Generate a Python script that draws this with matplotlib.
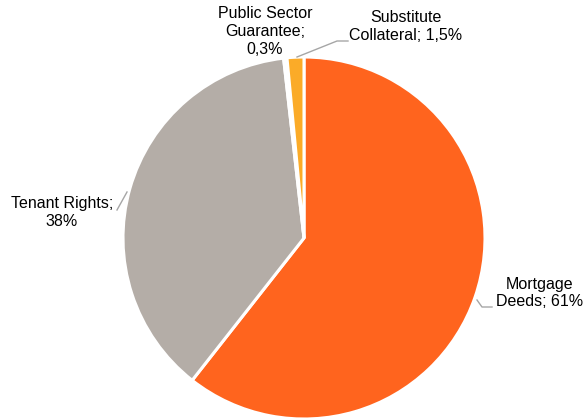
import matplotlib.pyplot as plt

# --- data ---
categories = ['Mortgage Deeds', 'Tenant Rights', 'Public Sector Guarantee', 'Substitute Collateral']
shares = [60.6, 37.6, 0.3, 1.5]
share_labels = ['61%', '38%', '0,3%', '1,5%']
colors = ['#FF641E', '#B4ADA7', '#FFFFFF', '#FBAB28']

plt.rcParams['font.family'] = ['Liberation Sans', 'DejaVu Sans']

fig = plt.figure(figsize=(5.87, 4.20), dpi=100)
ax = fig.add_axes([0, 0, 1, 1])

R = 181.0  # pie radius in px
cx, cy = 304.0, 238.0


def px(x, y):
    # pixel (from top-left) -> data coords
    return (x - cx) / R, (cy - y) / R


ax.pie(shares, colors=colors, startangle=90, counterclock=False, radius=1,
       wedgeprops=dict(edgecolor='white', linewidth=2.2))
ax.set_xlim(-cx / R, (587 - cx) / R)
ax.set_ylim(-(420 - cy) / R, cy / R)
ax.set_aspect('auto')
ax.axis('off')

lab = {
    0: (f'Mortgage\nDeeds; {share_labels[0]}', px(540, 293)),
    1: (f'Tenant Rights;\n{share_labels[1]}', px(62, 213)),
    2: (f'Public Sector\nGuarantee;\n{share_labels[2]}', px(265, 32)),
    3: (f'Substitute\nCollateral; {share_labels[3]}', px(406, 27)),
}
for i, (txt, (x, y)) in lab.items():
    ax.text(x, y, txt, ha='center', va='center', fontsize=11.5, color='#000000',
            linespacing=1.25)

# leader lines
lc = '#A6A6A6'
for pts in ([(297, 57), (337, 41), (348, 41)],
            [(117, 210), (127, 192)],
            [(477, 300), (482, 307), (492, 307)]):
    xs, ys = zip(*[px(a, b) for a, b in pts])
    ax.plot(xs, ys, color=lc, linewidth=1)

fig.savefig('out.png', dpi=100)
